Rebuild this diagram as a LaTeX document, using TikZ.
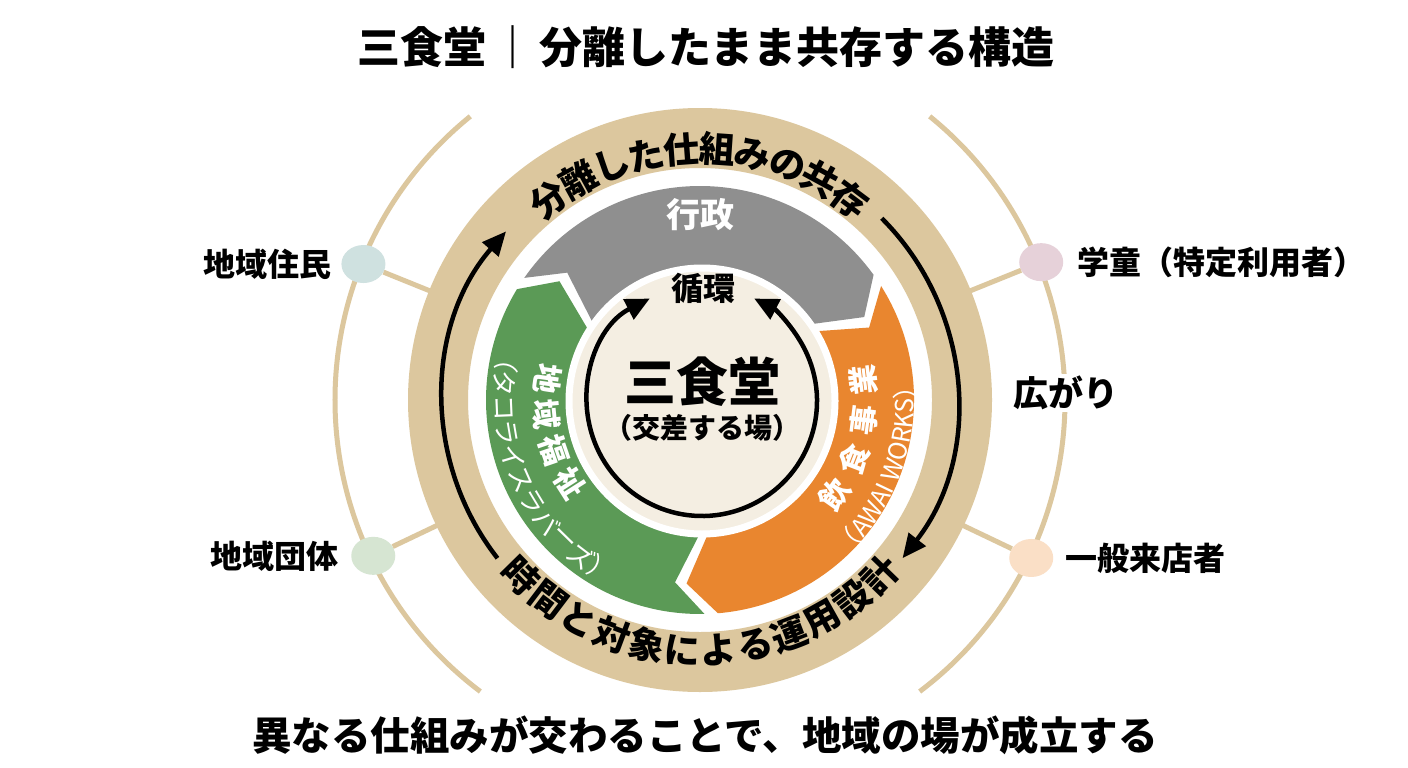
\documentclass[tikz,border=0pt]{standalone}
\usepackage{fontspec}
\setmainfont{Noto Sans CJK JP}
\usetikzlibrary{arrows.meta,positioning,decorations.text,shapes.geometric}
\definecolor{ringtan}{HTML}{DCC79E}
\definecolor{hubbeige}{HTML}{F4EEE2}
\definecolor{gyousei}{HTML}{8F8F8F}
\definecolor{fukushi}{HTML}{5B9A56}
\definecolor{inshoku}{HTML}{E9862F}
\definecolor{dotblue}{HTML}{CFE1E0}
\definecolor{dotgreen}{HTML}{D6E5D2}
\definecolor{dotpink}{HTML}{E6D1D9}
\definecolor{dotpeach}{HTML}{FADFC6}
\newcommand{\fsz}[1]{\fontsize{#1}{#1}\selectfont}
% chevron segment: colour, trailing angle, leading angle
\newcommand{\chevseg}[3]{%
  \fill[#1] (#2:214pt) arc[start angle=#2, end angle=#3, radius=214pt]
    -- ({#3-9}:184pt) -- (#3:128pt) arc[start angle=#3, end angle=#2, radius=128pt]
    -- ({#2-9}:184pt) -- cycle;}

\begin{document}
\begin{tikzpicture}[
  x=1pt, y=1pt,
  lbl/.style={font=\bfseries\fsz{32}, inner sep=0pt},
  dot/.style={ellipse, fill=#1, minimum width=44pt, minimum height=38pt, inner sep=0pt},
  spoke/.style={draw=ringtan, line width=5pt},
  thinarc/.style={draw=ringtan, line width=5pt},
  ringtxt/.style={font=\bfseries\fsz{36}, inner sep=0pt},
  segtxt/.style={font=\bfseries\fsz{30}, text=white, inner sep=0pt},
  subtxt/.style={font=\fsz{26}, text=white, inner sep=0pt},
  flow/.style={line width=4.5pt, -{Triangle[length=24pt,width=21pt]}},
]
\fill[white] (0,0) rectangle (1408,-768);
\useasboundingbox (0,0) rectangle (1408,-768);

% Title and closing line
\node[font=\bfseries\fsz{43}] (title) at (706,-47) {三食堂\hspace{5pt}｜\hspace{5pt}分離したまま共存する構造};
\node[font=\bfseries\fsz{39.5}] (closing) at (705,-735) {異なる仕組みが交わることで、地域の場が成立する};

\begin{scope}[shift={(700,-400)}]
% outer reach arcs
\draw[thinarc] (129:365pt) arc[start angle=129, end angle=233, radius=365pt];
\draw[thinarc] (51:365pt) arc[start angle=51, end angle=-53, radius=365pt];
\node[font=\bfseries\fsz{35}, fill=white, inner sep=2pt] (hirogari) at (366,7) {広がり};

% stakeholders
\node[dot=dotblue] (jumin) at (158:363pt) {};
\node[dot=dotgreen] (dantai) at (205.5:362pt) {};
\node[dot=dotpink] (gakudo) at (22:368pt) {};
\node[dot=dotpeach] (raiten) at (-25.5:367pt) {};
\coordinate (jumin-r) at (158:290pt);
\coordinate (dantai-r) at (205.5:290pt);
\coordinate (gakudo-r) at (22:290pt);
\coordinate (raiten-r) at (-25.5:290pt);
\draw[spoke] (jumin) -- (jumin-r);
\draw[spoke] (dantai) -- (dantai-r);
\draw[spoke] (gakudo) -- (gakudo-r);
\draw[spoke] (raiten) -- (raiten-r);
\node[lbl, left=10pt of jumin] (jumin-l) {地域住民};
\node[lbl, left=12pt of dantai] (dantai-l) {地域団体};
\node[lbl, right=14pt of gakudo] (gakudo-l) {学童（特定利用者）};
\node[lbl, right=12pt of raiten] (raiten-l) {一般来店者};

% tan ring
\fill[ringtan, even odd rule] (0,0) circle[radius=292pt] (0,0) circle[radius=232pt];
\draw[flow] (218:257pt) arc[start angle=218, end angle=139, radius=257pt];
\draw[flow] (45:257pt) arc[start angle=45, end angle=-38, radius=257pt];
\foreach \ch [count=\i] in {分,離,し,た,仕,組,み,の,共,存}
  \node[ringtxt, rotate={127-(\i-1)*8.2-90}] (top\i) at ({127-(\i-1)*8.2}:251pt) {\ch};
\foreach \ch [count=\i] in {時,間,と,対,象,に,よ,る,運,用,設,計}
  \node[ringtxt, rotate={224.5+(\i-1)*8.3+90}] (bot\i) at ({224.5+(\i-1)*8.3}:251pt) {\ch};

% three systems
\chevseg{gyousei}{145.2}{35.8}
\chevseg{inshoku}{32.2}{-85.2}
\chevseg{fukushi}{-88.8}{-211.2}
\node[segtxt, font=\bfseries\fsz{34}] (gyousei-t) at (0,185) {行政};
\foreach \ch [count=\i] in {地,域,福,祉}
  \node[segtxt, rotate={172+(\i-1)*13.5+90}] (fk\i) at ({172+(\i-1)*13.5}:154pt) {\ch};
\foreach \ch [count=\i] in {（,タ,コ,ラ,イ,ス,ラ,バ,ー,ズ,）}
  \node[subtxt, rotate={168+(\i-1)*7.2+90}] (tk\i) at ({168+(\i-1)*7.2}:196pt) {\ch};
\foreach \ch [count=\i] in {飲,食,事,業}
  \node[segtxt, rotate={-35+(\i-1)*14+90}] (in\i) at ({-35+(\i-1)*14}:165pt) {\ch};
\path[decorate, decoration={text along path, text align=center, text color=white,
  text={|\fsz{25}|（AWAI WORKS）}}]
  (-64:214pt) arc[start angle=-64, end angle=24, radius=214pt];

% hub
\filldraw[fill=hubbeige, draw=white, line width=7pt] (2,-1) circle[radius=133pt];
\draw[line width=4.5pt, {Triangle[length=24pt,width=22pt]}-{Triangle[length=24pt,width=22pt]}]
  (2,-1) ++(117:115pt) arc[start angle=117, end angle=423, radius=115pt];
\node[font=\bfseries\fsz{32}] (junkan) at (3,112) {循環};
\node[font=\bfseries\fsz{52}] (hub) at (2,18) {三食堂};
\node[font=\bfseries\fsz{28}] (hub-sub) at (2,-28) {（交差する場）};
\end{scope}
\end{tikzpicture}
\end{document}
